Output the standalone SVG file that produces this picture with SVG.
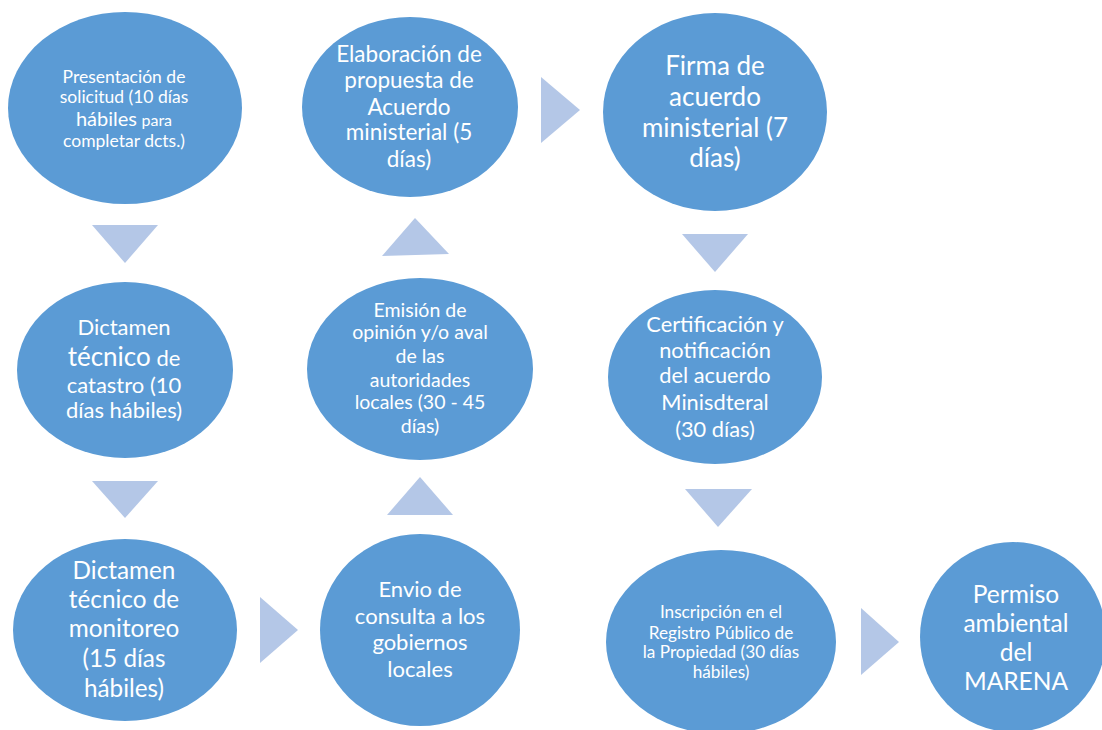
<svg xmlns="http://www.w3.org/2000/svg" width="1102" height="730" viewBox="0 0 1102 730">
<style>
.node{fill:#5B9BD5;}
.arrow{fill:#B4C7E7;}
text{font-family:Lato,"Open Sans","Liberation Sans",sans-serif;fill:#FFFFFF;text-anchor:middle;}
</style>
<rect width="1102" height="730" fill="#FFFFFF"/>
<g id="connectors">
<polygon class="arrow" points="92,225 158,225 125,263"/>
<polygon class="arrow" points="92,481 158,481 125,518"/>
<polygon class="arrow" points="260,597 260,663 298,630"/>
<polygon class="arrow" points="387,515 453,515 420,477"/>
<polygon class="arrow" points="382,256 449,254 415,218"/>
<polygon class="arrow" points="541,77 541,143 580,110"/>
<polygon class="arrow" points="682,234 748,234 715,272"/>
<polygon class="arrow" points="685,489 752,489 718,527"/>
<polygon class="arrow" points="861,608 861,675 899,642"/>
</g>
<g id="n1">
<ellipse class="node" cx="125" cy="108" rx="117" ry="96"/>
<text font-size="17.5"><tspan x="124" y="83">Presentación de</tspan><tspan x="124" y="103">solicitud (10 días</tspan><tspan x="124" y="126"><tspan font-size="20">hábiles</tspan> <tspan font-size="16">para</tspan></tspan><tspan x="124" y="147">completar dcts.)</tspan></text>
</g>
<g id="n2">
<ellipse class="node" cx="125" cy="370" rx="108" ry="88"/>
<text font-size="22"><tspan x="124" y="335">Dictamen</tspan><tspan x="124" y="366"><tspan font-size="26">técnico</tspan> de</tspan><tspan x="124" y="393">catastro (10</tspan><tspan x="124" y="418">días hábiles)</tspan></text>
</g>
<g id="n3">
<ellipse class="node" cx="125" cy="630" rx="112" ry="91"/>
<text font-size="24.3"><tspan x="124" y="579">Dictamen</tspan><tspan x="124" y="608">técnico de</tspan><tspan x="124" y="637">monitoreo</tspan><tspan x="124" y="667">(15 días</tspan><tspan x="124" y="697">hábiles)</tspan></text>
</g>
<g id="n4">
<ellipse class="node" cx="420" cy="630" rx="100" ry="96"/>
<text font-size="22"><tspan x="420" y="597">Envio de</tspan><tspan x="420" y="624">consulta a los</tspan><tspan x="420" y="650">gobiernos</tspan><tspan x="420" y="677">locales</tspan></text>
</g>
<g id="n5">
<ellipse class="node" cx="420" cy="369" rx="113" ry="91"/>
<text font-size="19.5"><tspan x="420" y="317">Emisión de</tspan><tspan x="420" y="339">opinión y/o aval</tspan><tspan x="420" y="363">de las</tspan><tspan x="420" y="387">autoridades</tspan><tspan x="420" y="409">locales (30 - 45</tspan><tspan x="420" y="433">días)</tspan></text>
</g>
<g id="n6">
<ellipse class="node" cx="410" cy="107" rx="108" ry="90"/>
<text font-size="22.5"><tspan x="409" y="62">Elaboración de</tspan><tspan x="409" y="88">propuesta de</tspan><tspan x="409" y="115">Acuerdo</tspan><tspan x="409" y="140">ministerial (5</tspan><tspan x="409" y="167">días)</tspan></text>
</g>
<g id="n7">
<ellipse class="node" cx="715" cy="112" rx="112" ry="99"/>
<text font-size="26"><tspan x="715" y="75">Firma de</tspan><tspan x="715" y="106">acuerdo</tspan><tspan x="715" y="137">ministerial (7</tspan><tspan x="715" y="167">días)</tspan></text>
</g>
<g id="n8">
<ellipse class="node" cx="715" cy="377" rx="107" ry="87"/>
<text font-size="21.8"><tspan x="715" y="332">Certificación y</tspan><tspan x="715" y="358">notificación</tspan><tspan x="715" y="383">del acuerdo</tspan><tspan x="715" y="410">Minisdteral</tspan><tspan x="715" y="437">(30 días)</tspan></text>
</g>
<g id="n9">
<ellipse class="node" cx="721" cy="642" rx="115" ry="92"/>
<text font-size="17.2"><tspan x="721" y="618">Inscripción en el</tspan><tspan x="721" y="639">Registro Público de</tspan><tspan x="721" y="658">la Propiedad (30 días</tspan><tspan x="721" y="678">hábiles)</tspan></text>
</g>
<g id="n10">
<ellipse class="node" cx="1013" cy="637" rx="93" ry="95"/>
<text font-size="24.5"><tspan x="1016" y="603">Permiso</tspan><tspan x="1016" y="632">ambiental</tspan><tspan x="1016" y="661">del</tspan><tspan x="1016" y="690">MARENA</tspan></text>
</g>
</svg>
